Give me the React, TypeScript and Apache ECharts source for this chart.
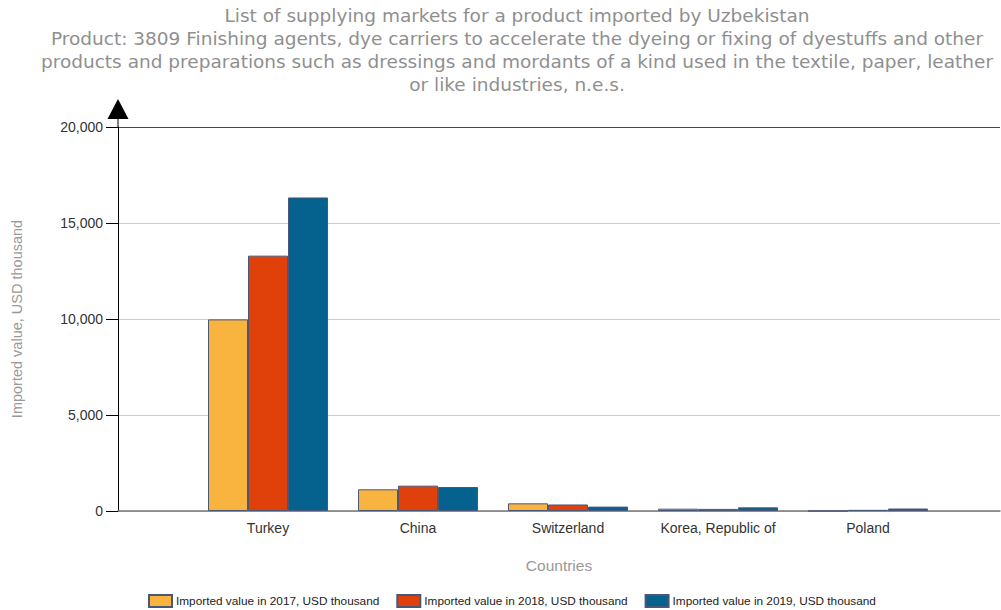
import React, { useEffect, useRef } from "react";
import * as echarts from "echarts";

const titleLines = [
  "List of supplying markets for a product imported by Uzbekistan",
  "Product: 3809 Finishing agents, dye carriers to accelerate the dyeing or fixing of dyestuffs and other",
  "products and preparations such as dressings and mordants of a kind used in the textile, paper, leather",
  "or like industries, n.e.s.",
];
const categories = ["Turkey", "China", "Switzerland", "Korea, Republic of", "Poland"];
const seriesNames = [
  "Imported value in 2017, USD thousand",
  "Imported value in 2018, USD thousand",
  "Imported value in 2019, USD thousand",
];
const values2017 = [9980, 1130, 400, 120, 0];
const values2018 = [13300, 1320, 340, 110, 60];
const values2019 = [16330, 1250, 230, 190, 130];
const colors = ["#F9B43F", "#E0410B", "#05628E"];

export default function App() {
  const ref = useRef<HTMLDivElement>(null);
  useEffect(() => {
    if (!ref.current) return;
    const chart = echarts.init(ref.current, undefined, { renderer: "svg" });
    const allValues = [values2017, values2018, values2019];
    const series = allValues.map((vals, i) => ({
      name: seriesNames[i],
      type: "bar",
      barWidth: 40,
      barGap: "0%",
      itemStyle: { color: colors[i], borderColor: "#4a5878", borderWidth: 1 },
      data: vals.map((v, k) => [k + 1, v]),
    }));
    chart.setOption({
      animation: false,
      textStyle: { fontFamily: "Liberation Sans" },
      graphic: [
        ...titleLines.map((t, i) => ({
          type: "text",
          x: 517,
          y: 15 + i * 23,
          style: {
            text: t,
            fill: "#8f8f8f",
            font: "18.5px 'DejaVu Sans'",
            align: "center",
            verticalAlign: "middle",
          },
        })),
        { type: "polygon", shape: { points: [[118, 99], [107.5, 119], [128.5, 119]] }, style: { fill: "#000" } },
        { type: "line", shape: { x1: 118, y1: 118, x2: 118, y2: 128 }, style: { stroke: "#000", lineWidth: 1 } },
      ],
      legend: {
        left: 148,
        top: 594,
        padding: 0,
        icon: "rect",
        itemWidth: 23,
        itemHeight: 12,
        itemGap: 17,
        textStyle: { fontFamily: "Liberation Sans", fontSize: 11.8, color: "#222", padding: [0, 0, 0, -1] },
        data: seriesNames,
      },
      grid: { left: 118, right: 1, top: 127, bottom: 99, containLabel: false },
      xAxis: {
        type: "value",
        min: 0,
        max: 5.88,
        interval: 1,
        name: "Countries",
        nameLocation: "middle",
        nameGap: 46,
        nameTextStyle: { color: "#999", fontSize: 15.5, fontFamily: "Liberation Sans" },
        axisLine: { show: true, lineStyle: { color: "#777", width: 1.5 } },
        axisTick: { show: false },
        splitLine: { show: false },
        axisLabel: {
          color: "#333",
          fontSize: 14,
          margin: 10,
          showMinLabel: false,
          showMaxLabel: false,
          formatter: (v: number) => categories[Math.round(v) - 1] || "",
        },
      },
      yAxis: {
        type: "value",
        min: 0,
        max: 20000,
        interval: 5000,
        name: "Imported value, USD thousand",
        nameLocation: "middle",
        nameGap: 94,
        nameTextStyle: { color: "#999", fontSize: 14.5, fontFamily: "Liberation Sans" },
        axisLine: { show: true, lineStyle: { color: "#000", width: 1 } },
        axisTick: { show: true, length: 12, lineStyle: { color: "#000" } },
        axisLabel: {
          color: "#333",
          fontSize: 14,
          margin: 15,
          formatter: (v: number) => v.toLocaleString("en-US"),
        },
        splitLine: {
          show: true,
          lineStyle: { color: ["#ccc", "#ccc", "#ccc", "#ccc", "#2a4a78"], width: 1 },
        },
      },
      series,
    });
    return () => chart.dispose();
  }, []);
  return (
    <div
      ref={ref}
      style={{ position: "fixed", left: 0, top: 0, width: 1001, height: 610, background: "#fff" }}
    />
  );
}
